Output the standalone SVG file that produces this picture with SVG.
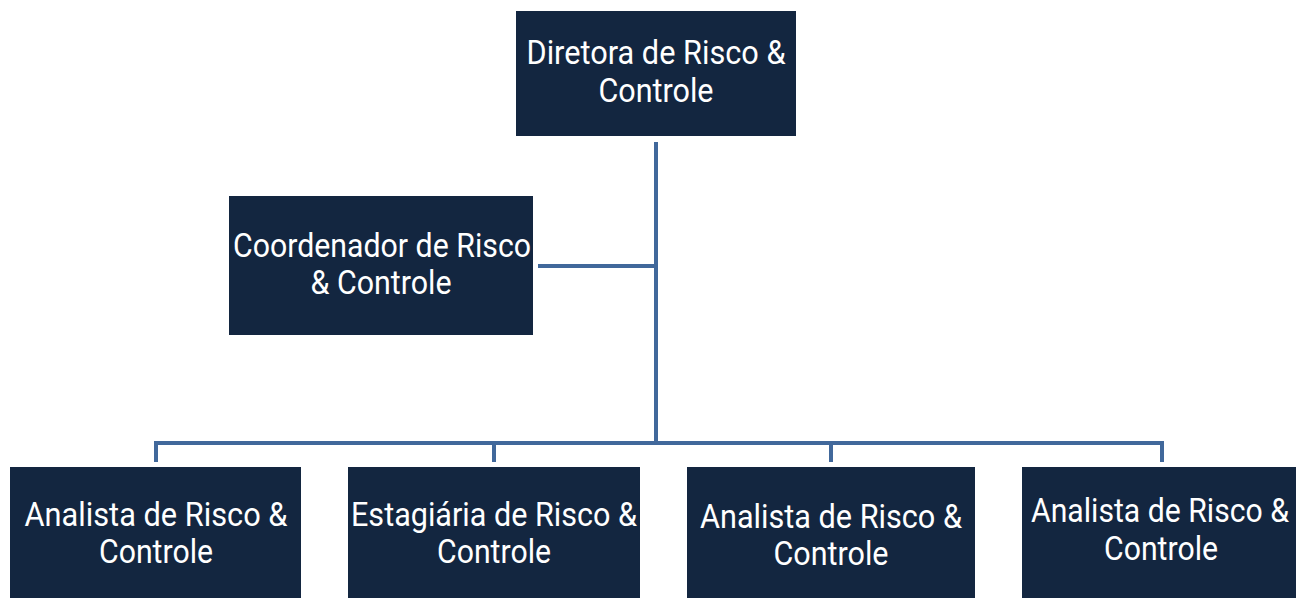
<svg xmlns="http://www.w3.org/2000/svg" width="1296" height="598" viewBox="0 0 1296 598">
<style>
.box{fill:#132640;}
.t{font-family:Roboto,"Liberation Sans",sans-serif;font-size:33px;fill:#ffffff;text-anchor:middle;}
.c{fill:none;stroke:#41689B;stroke-width:4;}
</style>
<rect width="1296" height="598" fill="#ffffff"/>
<g id="connectors">
<path class="c" d="M656 142 V443"/>
<path class="c" d="M538 266 H656"/>
<path class="c" d="M156 462 V443 H1162 V462"/>
<path class="c" d="M494 443 V462"/>
<path class="c" d="M831 443 V462"/>
</g>
<g id="n_diretora">
<rect class="box" x="516" y="11" width="280" height="125"/>
<text class="t" x="656" y="64" textLength="259" lengthAdjust="spacingAndGlyphs">Diretora de Risco &amp;</text>
<text class="t" x="656" y="102" textLength="115" lengthAdjust="spacingAndGlyphs">Controle</text>
</g>
<g id="n_coord">
<rect class="box" x="229" y="196" width="304" height="139"/>
<text class="t" x="382" y="257" textLength="298" lengthAdjust="spacingAndGlyphs">Coordenador de Risco</text>
<text class="t" x="381" y="294" textLength="141" lengthAdjust="spacingAndGlyphs">&amp; Controle</text>
</g>
<g id="n_analista1">
<rect class="box" x="10" y="467" width="291" height="131"/>
<text class="t" x="156" y="526" textLength="263" lengthAdjust="spacingAndGlyphs">Analista de Risco &amp;</text>
<text class="t" x="156" y="563" textLength="114" lengthAdjust="spacingAndGlyphs">Controle</text>
</g>
<g id="n_estagiaria">
<rect class="box" x="348" y="467" width="292" height="131"/>
<text class="t" x="494" y="526" textLength="286" lengthAdjust="spacingAndGlyphs">Estagiária de Risco &amp;</text>
<text class="t" x="494" y="563" textLength="114" lengthAdjust="spacingAndGlyphs">Controle</text>
</g>
<g id="n_analista2">
<rect class="box" x="687" y="467" width="288" height="131"/>
<text class="t" x="831" y="528" textLength="262" lengthAdjust="spacingAndGlyphs">Analista de Risco &amp;</text>
<text class="t" x="831" y="565" textLength="115" lengthAdjust="spacingAndGlyphs">Controle</text>
</g>
<g id="n_analista3">
<rect class="box" x="1022" y="467" width="274" height="131"/>
<text class="t" x="1160" y="522" textLength="258" lengthAdjust="spacingAndGlyphs">Analista de Risco &amp;</text>
<text class="t" x="1161" y="560" textLength="114" lengthAdjust="spacingAndGlyphs">Controle</text>
</g>
</svg>
